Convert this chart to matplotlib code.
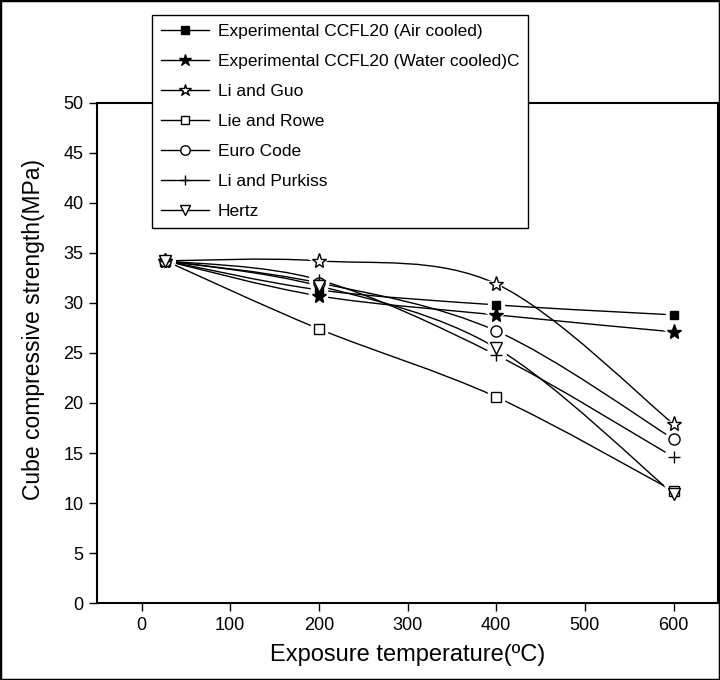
import numpy as np
import matplotlib
matplotlib.use('Agg')
import matplotlib.pyplot as plt
from matplotlib.path import Path
from matplotlib.patches import PathPatch, Rectangle
from matplotlib.lines import Line2D

plt.rcParams['font.family'] = ['Liberation Sans', 'DejaVu Sans']

temps = [27, 200, 400, 600]
air_cooled = [34.2, 31.3, 29.8, 28.8]
water_cooled = [34.2, 30.7, 28.8, 27.1]
li_guo = [34.2, 34.2, 31.9, 17.9]
lie_rowe = [34.2, 27.4, 20.6, 11.2]
euro_code = [34.2, 32.0, 27.2, 16.4]
li_purkiss = [34.2, 32.3, 24.8, 14.6]
hertz = [34.2, 31.7, 25.5, 10.9]

labels = ['Experimental CCFL20 (Air cooled)', 'Experimental CCFL20 (Water cooled)C',
          'Li and Guo', 'Lie and Rowe', 'Euro Code', 'Li and Purkiss', 'Hertz']
series = [air_cooled, water_cooled, li_guo, lie_rowe, euro_code, li_purkiss, hertz]
markers = ['s', '*', '*', 's', 'o', '+', 'v']
filled = [True, True, False, False, False, False, False]
sizes = [6, 11, 11, 7, 8, 9, 9]


def smooth_path(xs, ys):
    # catmull-rom through the points, drawn as cubic bezier segments
    pts = np.column_stack([xs, ys]).astype(float)
    verts = [pts[0]]
    codes = [Path.MOVETO]
    n = len(pts)
    for i in range(n - 1):
        p0 = pts[i - 1] if i > 0 else pts[i]
        p1 = pts[i]
        p2 = pts[i + 1]
        p3 = pts[i + 2] if i + 2 < n else pts[i + 1]
        verts += [p1 + (p2 - p0) / 6, p2 - (p3 - p1) / 6, p2]
        codes += [Path.CURVE4] * 3
    return Path(verts, codes)


fig = plt.figure(figsize=(7.2, 6.8), dpi=100)
ax = fig.add_axes([0.135, 0.113, 0.862, 0.736])

handles = []
for vals, m, f, ms, lab in zip(series, markers, filled, sizes, labels):
    ax.add_patch(PathPatch(smooth_path(temps, vals), fill=False, lw=1, ec='black', zorder=2))
    # white blobs give the line gaps around each marker
    ax.plot(temps, vals, ls='none', marker=m if m != '+' else 'o', ms=ms + 5,
            mfc='white', mec='white', zorder=3)
    fc = 'black' if f else 'white'
    ax.plot(temps, vals, ls='none', marker=m, ms=ms, mfc=fc, mec='black',
            mew=1, zorder=4)
    handles.append(Line2D([], [], color='black', lw=1, marker=m, ms=ms * 0.85,
                          mfc=fc, mec='black', label=lab))

ax.set_xlim(-50, 650)
ax.set_ylim(0, 50)
ax.set_xticks(range(0, 601, 100))
ax.set_yticks(range(0, 51, 5))
ax.tick_params(direction='out', length=6, width=1, pad=4, labelsize=13)
for sp in ax.spines.values():
    sp.set_linewidth(1.5)

ax.set_xlabel('Exposure temperature(ºC)', fontsize=17, va='center')
ax.set_ylabel('Cube compressive strength(MPa)', fontsize=16.5, va='center')
ax.xaxis.set_label_coords(0.5, -0.104)
ax.yaxis.set_label_coords(-0.103, 0.546)

leg = fig.legend(handles=handles, loc='upper left', bbox_to_anchor=(0.211, 0.978),
                 fontsize=12.5, frameon=True, fancybox=False, framealpha=1,
                 edgecolor='black', handlelength=2.8, handletextpad=0.5,
                 labelspacing=0.86, borderpad=0.5, borderaxespad=0)
leg.get_frame().set_linewidth(1)

fig.patches.append(Rectangle((0, 0), 1, 1, transform=fig.transFigure, fill=False,
                             lw=2.5, ec='black'))

fig.savefig('out.png', dpi=100)
